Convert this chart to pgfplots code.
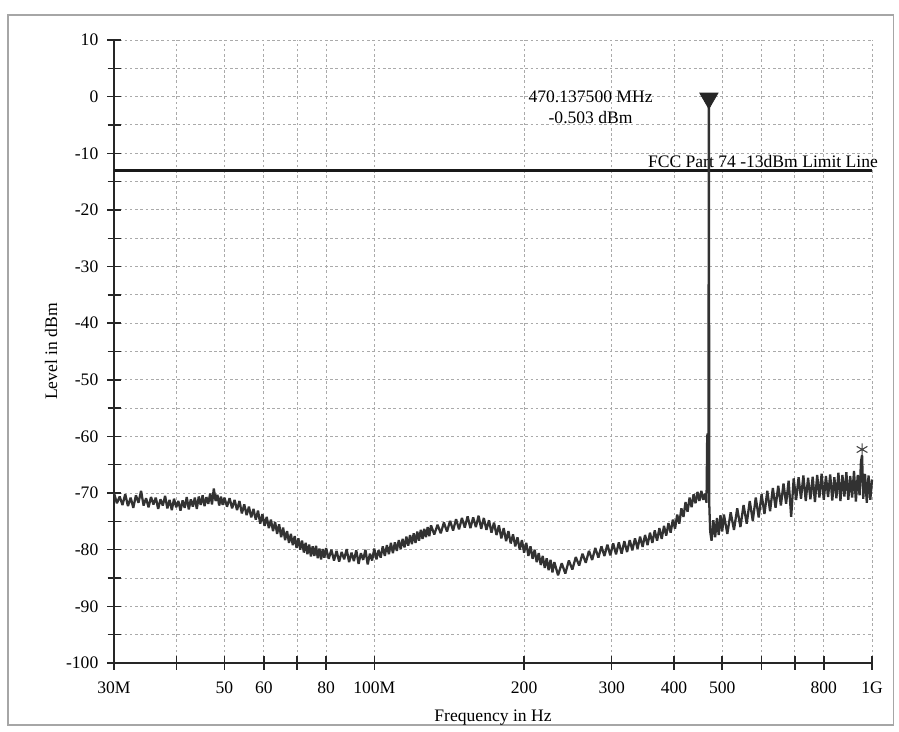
\documentclass[border=0pt]{standalone}
\usepackage{fontspec}
\setmainfont{Liberation Serif}
\usepackage{pgfplots}
\pgfplotsset{compat=1.18}
\definecolor{trace}{RGB}{50,50,50}
\definecolor{gridc}{RGB}{170,170,170}

\begin{document}
\begin{tikzpicture}
\begin{axis}[
  scale only axis, width=15.16cm, height=12.46cm,
  xmode=log, xmin=30, xmax=1000, ymin=-100, ymax=10,
  axis x line=bottom, axis y line=left,
  axis line style={-, line width=0.9pt, black!85},
  xtick={30,40,50,60,70,80,100,200,300,400,500,600,700,800,1000},
  xticklabels={30M,,50,60,,80,100M,200,300,400,500,,,800,1G},
  minor xtick={},
  ytick={-100,-90,...,10}, minor ytick={-95,-85,...,5},
  tick align=center, major tick length=0.28cm, minor tick length=0.26cm,
  tick style={black!85, line width=0.8pt},
  grid=both,
  major grid style={gridc, line width=0.5pt, dash pattern=on 1.5pt off 1.5pt},
  minor grid style={gridc, line width=0.5pt, dash pattern=on 1.5pt off 1.5pt},
  /pgf/number format/assume math mode=true,
  tick label style={font=\normalsize},
  xticklabel style={yshift=-0.12cm},
  yticklabel style={xshift=-0.05cm},
  xlabel={Frequency in Hz}, ylabel={Level in dBm},
  xlabel style={at={(axis description cs:0.5,-0.088)}, anchor=center},
  ylabel style={at={(axis description cs:-0.083,0.5)}, anchor=center},
  clip=false,
]
% limit line
\addplot[black!90, line width=1.5pt] coordinates {(30,-13) (1000,-13)};
\node[anchor=south east, inner sep=1pt, xshift=0.16cm] at (axis cs:1000,-13) {FCC Part 74 -13dBm Limit Line};
\node[align=center, inner sep=0pt] at (axis cs:272,-1.85) {470.137500 MHz\\-0.503 dBm};

% measured trace
\addplot[trace, line width=1.3pt, line join=bevel] table {
f y
30.0 -70.0
30.4 -71.8
30.8 -70.6
31.2 -72.1
31.6 -70.2
32.0 -72.3
32.4 -70.8
32.8 -72.6
33.2 -70.4
33.6 -71.7
34.0 -69.6
34.4 -72.2
34.8 -70.9
35.2 -72.5
35.6 -70.7
36.0 -72.0
36.4 -70.8
36.8 -72.8
37.2 -71.1
37.6 -72.2
38.0 -70.5
38.4 -72.7
38.8 -71.2
39.2 -73.0
39.6 -71.0
40.0 -72.5
40.4 -71.4
40.8 -73.1
41.2 -71.3
41.6 -72.6
42.0 -70.7
42.4 -72.9
42.8 -71.1
43.2 -72.4
43.6 -70.8
44.0 -72.8
44.4 -70.6
44.8 -72.1
45.2 -70.4
45.6 -72.3
46.0 -70.7
46.4 -71.9
46.8 -70.1
47.2 -72.0
47.6 -69.2
48.0 -71.4
48.4 -70.3
48.8 -72.2
49.2 -70.6
49.6 -72.1
50.0 -70.8
50.6 -72.4
51.2 -70.9
51.8 -72.7
52.4 -71.2
53.0 -73.0
53.6 -71.4
54.2 -73.6
54.8 -72.0
55.4 -73.9
56.0 -72.4
56.6 -74.3
57.2 -72.8
57.8 -74.7
58.4 -73.1
59.0 -75.4
59.6 -73.7
60.2 -75.8
60.8 -74.2
61.4 -76.2
62.0 -74.7
62.6 -76.7
63.2 -75.1
63.8 -77.2
64.4 -75.5
65.0 -77.8
65.6 -76.1
66.2 -78.3
66.8 -76.7
67.4 -78.8
68.0 -77.2
68.6 -79.2
69.2 -77.6
69.8 -79.7
70.4 -78.0
71.0 -80.0
71.6 -78.4
72.2 -80.5
72.8 -78.8
73.4 -80.8
74.0 -79.1
74.6 -81.2
75.2 -79.4
75.8 -81.1
76.4 -79.3
77.0 -81.5
77.6 -79.8
78.2 -81.7
78.8 -79.9
79.4 -81.4
80.0 -79.7
81 -81.6
82 -80.0
83 -81.9
84 -80.2
85 -82.1
86 -80.4
87 -81.7
88 -79.9
89 -82.2
90 -80.5
91 -82.0
92 -80.1
93 -82.5
94 -80.6
95 -81.8
96 -80.0
97 -82.6
98 -80.7
99 -81.9
100 -79.8
101 -81.7
102 -80.1
103 -81.4
104 -79.4
105 -81.1
106 -79.2
107 -80.8
108 -78.8
109 -80.6
110 -78.7
111 -80.2
112 -78.3
113 -79.9
114 -78.1
115 -79.6
116 -77.7
117 -79.3
118 -77.4
119 -79.0
120 -77.1
121 -78.8
122 -76.8
123 -78.4
124 -76.5
125 -78.1
126 -76.3
127 -77.8
128 -76.0
129 -77.6
130 -75.7
132 -77.3
134 -75.6
136 -77.1
138 -75.2
140 -76.8
142 -74.9
144 -76.6
146 -74.6
148 -76.4
150 -74.4
152 -76.1
154 -74.1
156 -76.2
158 -74.3
160 -76.0
162 -74.0
164 -76.3
166 -74.4
168 -76.5
170 -74.8
172 -77.0
174 -75.2
176 -77.4
178 -75.7
180 -78.0
182 -76.2
184 -78.5
186 -76.7
188 -78.9
190 -77.3
192 -79.4
194 -77.8
196 -80.0
198 -78.3
200 -80.5
202 -78.8
204 -81.1
206 -79.4
208 -81.6
210 -80.0
212 -82.2
214 -80.6
216 -82.7
218 -81.1
220 -83.2
222 -81.5
224 -83.6
226 -81.8
228 -84.0
230 -82.2
234 -84.5
238 -82.4
242 -84.2
246 -81.9
250 -83.5
254 -81.3
258 -82.8
262 -80.7
266 -82.3
270 -80.2
274 -81.8
278 -79.7
282 -81.4
286 -79.4
290 -81.1
294 -79.1
298 -81.0
302 -78.9
306 -80.8
310 -78.7
314 -80.7
318 -78.5
322 -80.4
326 -78.3
330 -80.1
334 -78.0
338 -79.8
342 -77.7
346 -79.5
350 -77.4
354 -79.2
358 -77.0
362 -78.8
366 -76.6
370 -78.4
374 -76.2
378 -78.1
382 -75.8
386 -77.5
390 -75.3
394 -77.0
398 -74.7
402 -76.3
406 -73.8
410 -75.4
414 -72.7
418 -74.2
422 -71.6
426 -73.3
430 -70.8
434 -72.5
438 -70.2
442 -71.8
446 -69.8
450 -71.4
454 -69.6
458 -71.2
462 -70.1
465 -71.7
466.5 -60.0
467.5 -59.5
469 -70.0
470.14 -0.503
471 -72.0
473 -76.8
476 -78.4
480 -74.8
484 -77.8
488 -74.4
492 -77.4
496 -73.9
500 -76.8
504 -73.8
512 -77.2
520 -73.4
528 -76.5
536 -72.7
544 -76.0
552 -72.1
560 -75.4
568 -71.4
576 -74.9
584 -70.8
592 -74.3
600 -70.2
608 -73.7
616 -69.6
624 -73.2
632 -69.1
640 -72.6
648 -68.7
656 -72.2
664 -68.3
672 -71.9
680 -67.8
688 -74.2
696 -67.4
704 -71.2
712 -67.2
720 -71.0
728 -66.9
736 -71.4
744 -67.3
752 -71.1
760 -67.1
768 -71.6
776 -66.8
784 -70.8
792 -66.6
800 -71.2
808 -67.0
816 -70.7
824 -66.7
832 -71.3
840 -67.2
848 -70.9
856 -66.4
864 -71.4
872 -66.8
880 -70.6
888 -66.3
896 -71.2
904 -67.0
912 -70.8
920 -66.1
928 -71.5
936 -66.8
944 -70.4
950 -64.5
955 -63.3
960 -71.0
968 -66.6
976 -71.7
984 -66.9
992 -71.2
1000 -67.6
};

% markers
\addplot[only marks, mark=triangle*, mark size=6pt, black!85,
  mark options={rotate=180}] coordinates {(470.14,-0.3)};
\addplot[only marks, mark=asterisk, mark size=3.5pt, black!75,
  mark options={line width=0.6pt}] coordinates {(955,-62.3)};

% scanned page frame
\draw[draw=none] (rel axis cs:-0.1504,-0.1091) rectangle (rel axis cs:1.0356,1.0642);
\draw[black!35, line width=0.8pt] (rel axis cs:-0.1398,-0.0995) rectangle (rel axis cs:1.028,1.040);
\end{axis}
\end{tikzpicture}
\end{document}
